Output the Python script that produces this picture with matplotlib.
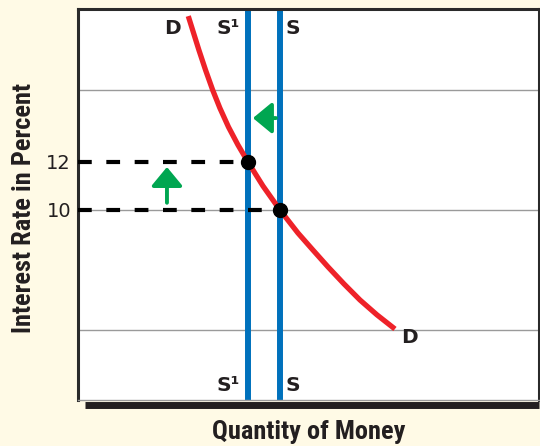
import matplotlib.pyplot as plt

# demand curve (quantity, interest rate)
demand_q = [11.03, 12.09, 12.76, 13.47, 14.19, 15.05, 16.0, 17.0, 18.5,
            20.2, 22.0, 23.5, 25.0, 26.6, 28.2, 29.9, 31.7]
demand_r = [18.08, 16.67, 15.83, 15.0, 14.25, 13.46, 12.71, 12.0, 11.0,
            10.0, 9.04, 8.33, 7.63, 6.92, 6.25, 5.63, 5.04]

supply_new = 17.0   # S1
supply_old = 20.2   # S
rate_new = 12
rate_old = 10
grid_rates = [5, 10, 15]
tick_rates = [12, 10]

ink = '#231F20'
bold = dict(family=['DejaVu Sans Condensed', 'Liberation Sans Narrow', 'Roboto Condensed', 'DejaVu Sans'],
            weight='bold', color=ink)
curve_lbl = dict(family='DejaVu Sans', weight='bold', color=ink, fontsize=14.5)

fig = plt.figure(figsize=(5.4, 4.46), dpi=100, facecolor='#FFFAE6')
ax = fig.add_axes([0.1444, 0.1031, 0.8536, 0.8767])
ax.set_facecolor('white')
ax.set_xlim(0, 46.1)
ax.set_ylim(2.08, 18.375)

for r in grid_rates:
    ax.axhline(r, color='#9a9a9a', lw=1.0, zorder=1)

ax.axvline(supply_new, color='#0071BC', lw=4.3, zorder=2)
ax.axvline(supply_old, color='#0071BC', lw=4.3, zorder=2)
ax.plot(demand_q, demand_r, color='#EE2229', lw=3.8, zorder=3,
        solid_capstyle='butt', solid_joinstyle='round')

ax.plot([0, supply_new], [rate_new, rate_new], color='black', lw=3, dashes=(3.3, 3.5), zorder=4)
ax.plot([0, supply_old], [rate_old, rate_old], color='black', lw=3, dashes=(3.3, 3.5), zorder=4)
ax.plot([supply_new, supply_old], [rate_new, rate_old], 'o', color='black', ms=10, zorder=5)

green = '#00A651'
arr = dict(arrowstyle='-|>,head_length=1.15,head_width=0.95', color=green, lw=2.8,
           mutation_scale=10, shrinkA=0, shrinkB=0)
ax.annotate('', xy=(17.5, 13.83), xytext=(19.8, 13.83), arrowprops=arr)
ax.annotate('', xy=(8.9, 11.79), xytext=(8.9, 10.3), arrowprops=arr)

ax.text(9.4, 17.95, 'D', ha='center', va='top', **curve_lbl)
ax.text(15.0, 17.95, 'S\u00b9', ha='center', va='top', **curve_lbl)
ax.text(21.5, 17.95, 'S', ha='center', va='top', **curve_lbl)
ax.text(15.0, 2.3, 'S\u00b9', ha='center', va='bottom', **curve_lbl)
ax.text(21.5, 2.3, 'S', ha='center', va='bottom', **curve_lbl)
ax.text(33.2, 4.67, 'D', ha='center', va='center', **curve_lbl)

ax.set_xticks([])
ax.set_yticks(tick_rates)
ax.set_yticklabels([str(t) for t in tick_rates], fontsize=14, color=ink)
ax.tick_params(axis='y', length=0, pad=5)

for side in ['left', 'top', 'right']:
    ax.spines[side].set_color('#2a2a2a')
    ax.spines[side].set_linewidth(2.2)
ax.spines['bottom'].set_color('#9a9a9a')
ax.spines['bottom'].set_linewidth(1)
ax.plot([0.015, 1.0], [-0.012, -0.012], transform=ax.transAxes, color=ink,
        lw=5, clip_on=False, solid_capstyle='butt')

ax.set_ylabel('Interest Rate in Percent', fontsize=19, **bold)
ax.set_xlabel('Quantity of Money', fontsize=19, **bold)
ax.xaxis.set_label_coords(0.5, -0.05)
ax.yaxis.set_label_coords(-0.092, 0.49)

fig.savefig('out.png', dpi=100, facecolor=fig.get_facecolor())
